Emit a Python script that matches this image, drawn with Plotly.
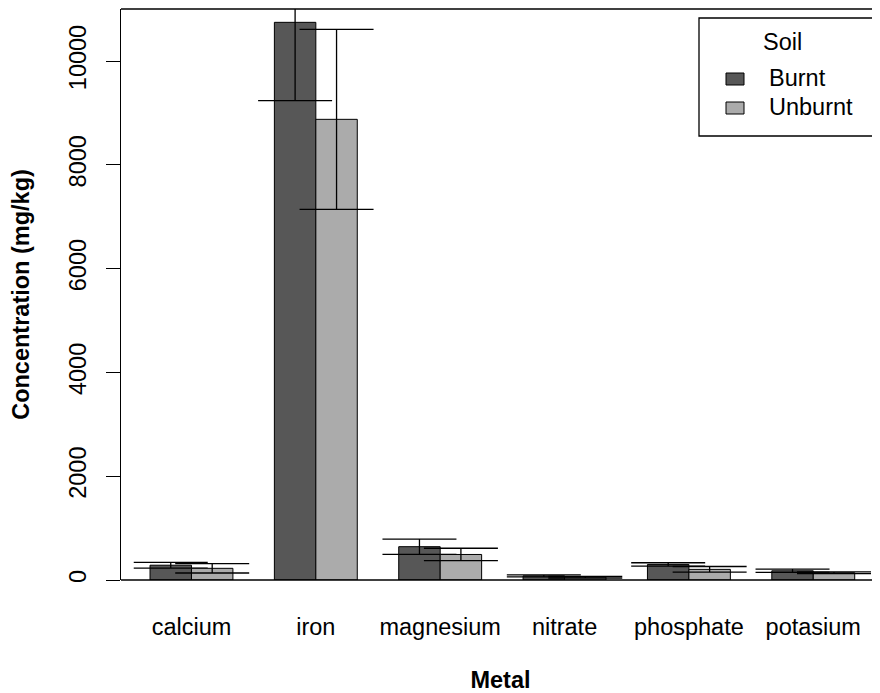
import plotly.graph_objects as go

metals = ["calcium", "iron", "magnesium", "nitrate", "phosphate", "potasium"]
soil_types = ["Burnt", "Unburnt"]
burnt_mean = [285, 10745, 642, 80, 300, 177]
burnt_err = [55, 1510, 147, 18, 32, 32]
unburnt_mean = [225, 8876, 492, 55, 205, 140]
unburnt_err = [90, 1735, 120, 16, 55, 17]
y_ticks = [0, 2000, 4000, 6000, 8000, 10000]

colors = ["#575757", "#ababab"]
FONT = "Liberation Sans, Arial, Helvetica, sans-serif"
FS = 23.5

# page offset: the html body has an 8px margin
OFF = 8
W, H = 880 - OFF, 693 - OFF
L, T, R = 121 - OFF, 9 - OFF, 0
B = H - (580 - OFF)
PW, PH = W - L - R, H - T - B

# R barplot(beside=TRUE) positions: group i occupies [1+3i, 3+3i]
burnt_x = [1.5 + 3 * i for i in range(len(metals))]
unburnt_x = [2.5 + 3 * i for i in range(len(metals))]
group_x = [2.0 + 3 * i for i in range(len(metals))]

fig = go.Figure()
for name, xs, ys, es, col in [
    (soil_types[0], burnt_x, burnt_mean, burnt_err, colors[0]),
    (soil_types[1], unburnt_x, unburnt_mean, unburnt_err, colors[1]),
]:
    fig.add_trace(go.Bar(
        x=xs, y=ys, width=1.0, name=name,
        marker=dict(color=col, line=dict(color="black", width=1)),
        error_y=dict(type="data", array=es, visible=True, color="black",
                     thickness=1.3, width=37),
        showlegend=False,
    ))

fig.update_layout(
    width=W, height=H,
    margin=dict(l=L, r=R, t=T, b=B, pad=0),
    paper_bgcolor="white", plot_bgcolor="white",
    barmode="overlay",
    font=dict(family=FONT, size=FS, color="black"),
    xaxis=dict(range=[0.30, 18.61], tickvals=group_x, ticktext=metals,
               showgrid=False, zeroline=False, showline=False, ticks="",
               tickfont=dict(size=FS), ticklabelstandoff=30,
               title=dict(text="<b>Metal</b>", font=dict(size=FS), standoff=34)),
    yaxis=dict(range=[0, 10000 * (580 - 9) / (580 - 61)], tickvals=y_ticks,
               ticktext=[str(v) for v in y_ticks],
               showgrid=False, zeroline=False, showline=True,
               linecolor="black", linewidth=1.3, ticks="outside",
               ticklen=14, tickwidth=1.3, tickcolor="black",
               tickangle=-90, tickfont=dict(size=FS), ticklabelstandoff=10,
               title=dict(text="<b>Concentration (mg/kg)</b>",
                          font=dict(size=FS), standoff=32)),
)

# top border line and baseline
fig.add_shape(type="line", xref="paper", yref="paper", x0=0, x1=1, y0=1, y1=1,
              line=dict(color="black", width=1.3))
fig.add_shape(type="line", xref="paper", yref="paper", x0=0, x1=1, y0=0, y1=0,
              line=dict(color="black", width=1.3))

# legend drawn like R's legend(); positions in page pixels
def px_x(p):
    return (p - OFF - L) / PW

def px_y(p):
    return 1 - (p - OFF - T) / PH

fig.add_shape(type="rect", xref="paper", yref="paper",
              x0=px_x(699), x1=px_x(876), y0=px_y(18), y1=px_y(136),
              line=dict(color="black", width=1.3), fillcolor="white")
fig.add_annotation(xref="paper", yref="paper", x=px_x(782), y=px_y(42),
                   text="Soil", showarrow=False, xanchor="center", yanchor="middle",
                   font=dict(size=FS))
for k, (lab, col) in enumerate(zip(soil_types, colors)):
    yc = 79 + 29 * k
    fig.add_shape(type="rect", xref="paper", yref="paper",
                  x0=px_x(726), x1=px_x(744), y0=px_y(yc - 6), y1=px_y(yc + 6),
                  line=dict(color="black", width=1), fillcolor=col)
    fig.add_annotation(xref="paper", yref="paper", x=px_x(767), y=px_y(yc - 1),
                       text=lab, showarrow=False, xanchor="left", yanchor="middle",
                       font=dict(size=FS))

fig.write_html("out.html")
